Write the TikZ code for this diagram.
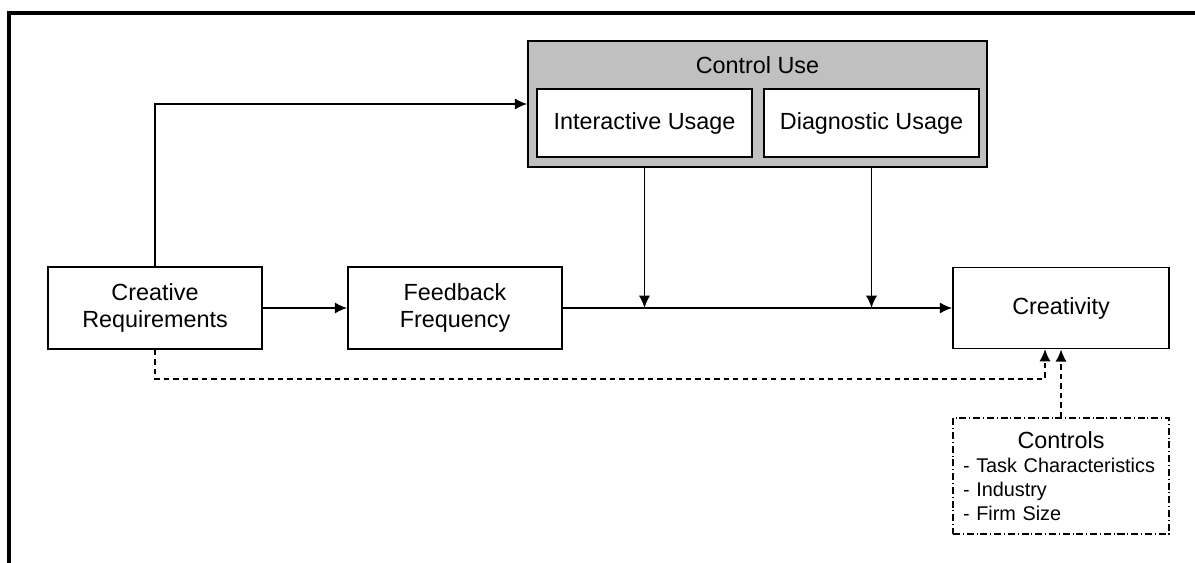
\documentclass[tikz,border=0pt]{standalone}
\usepackage{fontspec}
\setmainfont{Liberation Sans}
\usepackage{tikz}
\usetikzlibrary{arrows.meta}

\definecolor{ctrlgray}{RGB}{192,192,192}

\begin{document}
\begin{tikzpicture}[x=0.02cm,y=-0.02cm]

	\tikzset{box/.style = {shape=rectangle,draw,line width=1pt,minimum width=4.28cm,minimum height=1.64cm,align=center,font=\fontsize{13.3}{15.4}\selectfont}}
	\tikzset{usage/.style = {box,fill=white,minimum width=4.3cm,minimum height=1.36cm}}
	\tikzset{ctrlbox/.style = {shape=rectangle,draw,line width=1pt,dash pattern=on 4pt off 1.6pt on 0.6pt off 1.6pt,text width=3.92cm,inner sep=0.2cm,minimum height=2.32cm,align=left,font=\fontsize{11.3}{13.7}\selectfont}}
	\tikzset{edge/.style = {->,> = {Latex[length=7pt,width=6.4pt]},line width=1pt}}

	\useasboundingbox (0,0) rectangle (1195,563);
	\draw[line width=1.8pt] (1195,13) -| (9,563);

	% vertices
	\node[box,fill=ctrlgray,minimum width=9.18cm,minimum height=2.52cm] (cu) at (757.5,104) {};
	\node[font=\fontsize{13.3}{15.4}\selectfont] (cutitle) at (757.5,65) {Control Use};
	\node[usage] (iu) at (644.5,123) {Interactive Usage};
	\node[usage] (du) at (871.5,123) {Diagnostic Usage};
	\node[box] (cr) at (155,308) {Creative\\Requirements};
	\node[box] (ff) at (455,308) {Feedback\\Frequency};
	\node[box,minimum width=4.32cm,minimum height=1.62cm] (cy) at (1061,308) {Creativity};
	\node[ctrlbox] (ct) at (1061,476) {{\fontsize{13.3}{15.4}\selectfont\hfill Controls\hfill\null}\\- Task Characteristics\\- Industry\\- Firm Size};
	\coordinate (cyin) at (1045,349);

	%edges
	\draw[edge] (cr) -- (ff);
	\draw[edge] (ff) -- (cy);
	\draw[edge] (cr.north) |- (cu.west);
	\draw[edge] (iu.south |- cu.south) -- (iu |- ff);
	\draw[edge] (du.south |- cu.south) -- (du |- ff);
	\draw[edge,dash pattern=on 3pt off 2.4pt] (cr.south) -- ++(0,29) -| (cyin);
	\draw[edge,dash pattern=on 3pt off 2.4pt] (ct) -- (cy);
\end{tikzpicture}
\end{document}
